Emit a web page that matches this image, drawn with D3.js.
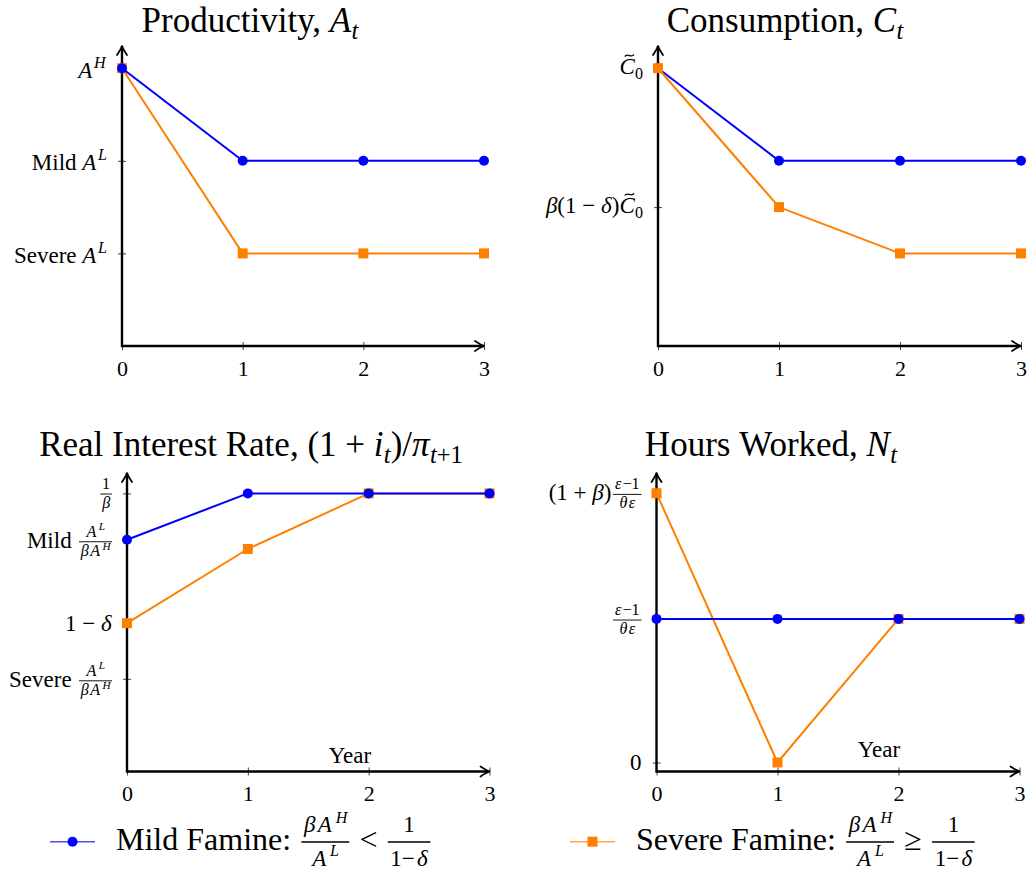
<!DOCTYPE html>
<html>
<head>
<meta charset="utf-8">
<script src="https://cdn.jsdelivr.net/npm/d3@7"></script>
<style>
  html, body { margin: 0; padding: 0; background: #fff; }
  svg { display: block; }
</style>
</head>
<body>
<svg id="chart" width="1029" height="872"></svg>
<script>
// ---------------- DATA ----------------
const years = [0, 1, 2, 3];
const xTickLabels = ["0", "1", "2", "3"];

// Productivity (A^H = 3, Mild A^L = 2, Severe A^L = 1)
const prodMild   = [3, 2, 2, 2];
const prodSevere = [3, 1, 1, 1];
const prodTicks  = [3, 2, 1];

// Consumption (C0 = 3, beta(1-delta)C0 = 1.5)
const consMild   = [3, 2, 2, 2];
const consSevere = [3, 1.5, 1, 1];
const consTicks  = [3, 1.5];

// Real interest rate (1/beta = 3, mild = 2.5, 1-delta = 1.6, severe = 1)
const rateMild   = [2.5, 3, 3, 3];
const rateSevere = [1.6, 2.4, 3, 3];
const rateTicks  = [3, 2.5, 1.6, 1];

// Hours worked ((eps-1)/(theta eps) = 1, (1+beta)(...) = 1.875)
const hoursMild   = [1, 1, 1, 1];
const hoursSevere = [1.875, 0, 1, 1];
const hoursTicks  = [1.875, 1, 0];

// ---------------- TEXT (math-like specs) ----------------
const I = s => ({ i: s });
const fracAH = { frac: [[I("A"), { sup: [I("L")] }], [I("β"), I("A"), { sup: [I("H")] }]] };
const epsFrac = { frac: [[I("ε"), "−1"], [I("θ"), I("ε")]] };

const prodLabels = [
  [I("A"), { sup: [I("H")] }],
  ["Mild ", I("A"), { sup: [I("L")] }],
  ["Severe ", I("A"), { sup: [I("L")] }]
];
const consLabels = [
  [{ tilde: [I("C")] }, { sub: ["0"] }],
  [I("β"), "(1 − ", I("δ"), ")", { tilde: [I("C")] }, { sub: ["0"] }]
];
const rateLabels = [
  [{ frac: [["1"], [I("β")]] }],
  ["Mild ", fracAH],
  ["1 − ", I("δ")],
  ["Severe ", fracAH]
];
const hoursLabels = [
  ["(1 + ", I("β"), ")", epsFrac],
  [epsFrac],
  ["0"]
];

const titles = [
  ["Productivity, ", I("A"), { sub: [I("t")] }],
  ["Consumption, ", I("C"), { sub: [I("t")] }],
  ["Real Interest Rate, (1 + ", I("i"), { sub: [I("t")] }, ")/", I("π"), { sub: [I("t"), "+1"] }],
  ["Hours Worked, ", I("N"), { sub: [I("t")] }]
];

const legendMild = ["Mild Famine: ", { frac: [[I("β"), I("A"), { sup: [I("H")] }], [I("A"), { sup: [I("L")] }]], big: true },
                    " < ", { frac: [["1"], ["1−", I("δ")]], big: true }];
const legendSevere = ["Severe Famine: ", { frac: [[I("β"), I("A"), { sup: [I("H")] }], [I("A"), { sup: [I("L")] }]], big: true },
                      " ≥ ", { frac: [["1"], ["1−", I("δ")]], big: true }];
const yearLabel = "Year";

// ---------------- STYLE ----------------
const BLUE = "#0000ff";
const ORANGE = "#ff8000";
const FONT = "'Liberation Serif', 'Times New Roman', Times, 'DejaVu Serif', serif";

const svg = d3.select("#chart");

// ---------- math text renderer ----------
function txt(g, s, fs, x, y, italic, kern) {
  const t = g.append("text")
    .attr("x", x).attr("y", y)
    .attr("font-family", FONT)
    .attr("font-size", fs)
    .attr("fill", "#000")
    .attr("font-style", italic ? "italic" : "normal")
    .text(s.replace(/ /g, "\u00a0"));
  return x + t.node().getComputedTextLength() + (kern || 0) * fs;
}

function mathRun(g, items, fs, x, y, kern, supShift) {
  kern = kern || 0;
  supShift = supShift || 0.42;
  let prevItalic = false;
  for (const it of items) {
    if (typeof it === "string") { x = txt(g, it, fs, x, y, false, kern); prevItalic = false; }
    else if (it.i !== undefined) { x = txt(g, it.i, fs, x, y, true, kern); prevItalic = true; }
    else if (it.sup) { x = mathRun(g, it.sup, fs * 0.7, x + (prevItalic ? fs * 0.07 : fs * 0.02), y - fs * supShift, kern); prevItalic = false; }
    else if (it.sub) { x = mathRun(g, it.sub, fs * 0.7, x + fs * 0.01, y + fs * 0.2, kern); prevItalic = false; }
    else if (it.tilde) {
      const x0 = x;
      x = mathRun(g, it.tilde, fs, x, y, kern);
      const w = fs * 0.4, cx = (x0 + x) / 2 + fs * 0.1, ty = y - fs * 0.82, a = fs * 0.09;
      g.append("path")
        .attr("d", `M${cx - w / 2},${ty + a * 0.5} C${cx - w / 4},${ty - a * 1.5} ${cx + w / 4},${ty + a * 1.5} ${cx + w / 2},${ty - a * 0.5}`)
        .attr("fill", "none").attr("stroke", "#000").attr("stroke-width", fs * 0.055);
      prevItalic = true;
    }
    else if (it.frac) {
      const big = !!it.big;
      const s = fs * (big ? 0.72 : 0.7);
      const k = big ? 0.1 : 0.08;
      const gn = g.append("g"), gd = g.append("g");
      const wN = mathRun(gn, it.frac[0], s, 0, 0, k) - k * s;
      const wD = mathRun(gd, it.frac[1], s, 0, 0, k, big ? 0.42 : 0.36) - k * s;
      const pad = fs * 0.08;
      const w = Math.max(wN, wD) + 2 * pad;
      const ax = y - fs * 0.25;
      const numDy = big ? -0.3 : -0.22, denDy = big ? 0.74 : 0.6;
      x += fs * 0.07;
      gn.attr("transform", `translate(${x + (w - wN) / 2},${ax + numDy * fs})`);
      gd.attr("transform", `translate(${x + (w - wD) / 2},${ax + denDy * fs})`);
      g.append("line").attr("x1", x).attr("x2", x + w).attr("y1", ax).attr("y2", ax)
        .attr("stroke", "#000").attr("stroke-width", Math.max(0.9, fs * 0.04));
      x += w + fs * 0.07;
      prevItalic = false;
    }
  }
  return x;
}

function mathLabel(parent, items, fs) {
  const g = parent.append("g");
  const inner = g.append("g");
  const w = mathRun(inner, items, fs, 0, 0);
  return { g, inner, w };
}

// ---------------- PANELS ----------------
const panels = [
  { title: titles[0], tx: 250, ty: 32, left: 122, right: 484, bottom: 346, top: 46, ymin: 0, ymax: 3.24,
    mild: prodMild, severe: prodSevere, ticks: prodTicks, labels: prodLabels, blueOnTop: true },
  { title: titles[1], tx: 785, ty: 32, left: 658, right: 1021, bottom: 346, top: 46, ymin: 0, ymax: 3.24,
    mild: consMild, severe: consSevere, ticks: consTicks, labels: consLabels, blueOnTop: false },
  { title: titles[2], tx: 251, ty: 456, left: 127, right: 489.5, bottom: 771.5, top: 473, ymin: 0, ymax: 3.22,
    mild: rateMild, severe: rateSevere, ticks: rateTicks, labels: rateLabels, blueOnTop: true,
    year: { dx: 223, dy: -8.5 } },
  { title: titles[3], tx: 771, ty: 456, left: 656.5, right: 1019.5, bottom: 771.5, top: 473, ymin: -0.0626, ymax: 2.016,
    mild: hoursMild, severe: hoursSevere, ticks: hoursTicks, labels: hoursLabels, blueOnTop: true,
    year: { dx: 222.5, dy: -14.5 } }
];

function arrowHead(g, x, y, dir) {
  const L = 9, H = 5;
  let d;
  if (dir === "right") d = `M${x - L},${y - H} Q${x - 3},${y - 1} ${x},${y} Q${x - 3},${y + 1} ${x - L},${y + H}`;
  else d = `M${x - H},${y + L} Q${x - 1},${y + 3} ${x},${y} Q${x + 1},${y + 3} ${x + H},${y + L}`;
  g.append("path").attr("d", d).attr("fill", "none").attr("stroke", "#000")
    .attr("stroke-width", 1.8).attr("stroke-linecap", "round").attr("stroke-linejoin", "round");
}

panels.forEach(p => {
  const x = d3.scaleLinear().domain([0, 3]).range([p.left, p.right]);
  const y = d3.scaleLinear().domain([p.ymin, p.ymax]).range([p.bottom, p.top]);
  const g = svg.append("g");

  // title
  const t = mathLabel(g, p.title, 35);
  t.g.attr("transform", `translate(${p.tx - t.w / 2},${p.ty})`);

  // x axis ticks & labels via d3 axis
  const xa = g.append("g").attr("transform", `translate(0,${y.range()[0]})`)
    .call(d3.axisBottom(x).tickValues(years).tickFormat((d, i) => xTickLabels[i])
      .tickSizeInner(4).tickSizeOuter(0).tickPadding(10));
  xa.attr("font-family", FONT).attr("font-size", 22);
  xa.select(".domain").remove();
  xa.selectAll(".tick line").attr("y1", -4).attr("stroke", "#444").attr("stroke-width", 1);
  xa.selectAll(".tick text").attr("font-size", 22).attr("font-family", FONT).attr("fill", "#000");

  // y axis ticks via d3 axis (labels drawn as math)
  const ya = g.append("g").attr("transform", `translate(${x(0)},0)`)
    .call(d3.axisLeft(y).tickValues(p.ticks).tickFormat("").tickSizeInner(4).tickSizeOuter(0));
  ya.select(".domain").remove();
  ya.selectAll(".tick line").attr("x1", 4).attr("stroke", "#444").attr("stroke-width", 1);

  p.ticks.forEach((v, i) => {
    const lab = mathLabel(g, p.labels[i], 23);
    const bb = lab.inner.node().getBBox();
    lab.g.attr("transform", `translate(${x(0) - 15 - (bb.x + bb.width)},${y(v) - (bb.y + bb.height / 2)})`);
  });

  // axis lines with arrows
  const x0 = x(0), yb = y.range()[0];
  g.append("line").attr("x1", x0).attr("x2", x(3)).attr("y1", yb).attr("y2", yb)
    .attr("stroke", "#000").attr("stroke-width", 2.4);
  g.append("line").attr("x1", x0).attr("x2", x0).attr("y1", yb + 1.2).attr("y2", y.range()[1])
    .attr("stroke", "#000").attr("stroke-width", 2.4);
  arrowHead(g, x(3), yb, "right");
  arrowHead(g, x0, y.range()[1], "up");

  if (p.year) {
    g.append("text").attr("x", x0 + p.year.dx).attr("y", yb + p.year.dy)
      .attr("text-anchor", "middle").attr("font-family", FONT).attr("font-size", 23).text(yearLabel);
  }

  const line = d3.line().x((d, i) => x(years[i])).y(d => y(d));

  function drawSevere() {
    g.append("path").datum(p.severe).attr("d", line).attr("fill", "none")
      .attr("stroke", ORANGE).attr("stroke-width", 2).attr("stroke-linejoin", "round");
    g.selectAll(null).data(p.severe).enter().append("rect")
      .attr("x", (d, i) => x(years[i]) - 5).attr("y", d => y(d) - 5)
      .attr("width", 10).attr("height", 10).attr("fill", ORANGE);
  }
  function drawMild() {
    g.append("path").datum(p.mild).attr("d", line).attr("fill", "none")
      .attr("stroke", BLUE).attr("stroke-width", 2).attr("stroke-linejoin", "round");
    g.selectAll(null).data(p.mild).enter().append("circle")
      .attr("cx", (d, i) => x(years[i])).attr("cy", d => y(d)).attr("r", 5).attr("fill", BLUE);
  }
  if (p.blueOnTop) { drawSevere(); drawMild(); } else { drawMild(); drawSevere(); }
});

// ---------------- LEGEND ----------------
const leg = svg.append("g");
const legY = 841.7;
leg.append("line").attr("x1", 50).attr("x2", 95).attr("y1", legY).attr("y2", legY)
  .attr("stroke", BLUE).attr("stroke-opacity", 0.7).attr("stroke-width", 1.5);
leg.append("circle").attr("cx", 72.5).attr("cy", legY).attr("r", 5).attr("fill", BLUE);
const lm = mathLabel(leg, legendMild, 32);
lm.g.attr("transform", `translate(116,850)`);

leg.append("line").attr("x1", 570).attr("x2", 615).attr("y1", legY).attr("y2", legY)
  .attr("stroke", ORANGE).attr("stroke-opacity", 0.7).attr("stroke-width", 1.5);
leg.append("rect").attr("x", 587.5).attr("y", legY - 5).attr("width", 10).attr("height", 10).attr("fill", ORANGE);
const ls = mathLabel(leg, legendSevere, 32);
ls.g.attr("transform", `translate(636,850)`);
</script>
</body>
</html>
